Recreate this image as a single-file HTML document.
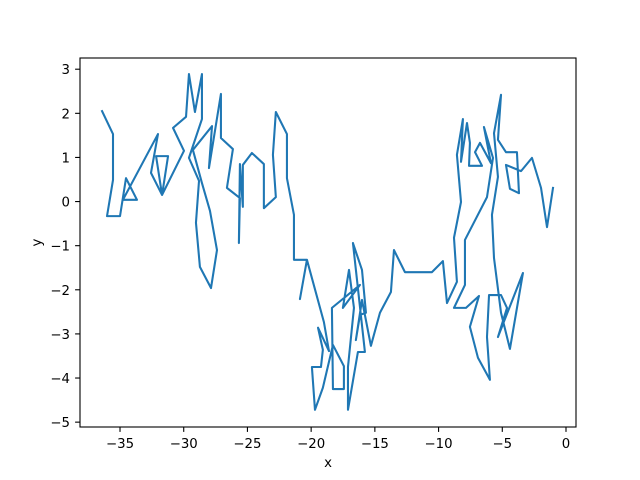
<!DOCTYPE html>
<html><head><meta charset="utf-8"><style>
html,body{margin:0;padding:0;background:#fff;}
svg{display:block;font-family:"DejaVu Sans","Liberation Sans",sans-serif;}
</style></head><body>
<svg id="chart" width="640" height="480">
<rect width="640" height="480" fill="#fff"/>
<g id="plot"></g>
</svg>
<script>
const xValues=[-36.41,-35.55,-35.55,-36.02,-35.0,-34.53,-33.67,-34.77,-32.02,-32.57,-31.70,-31.23,-32.17,-31.70,-29.98,-30.84,-29.82,-29.59,-29.12,-28.57,-28.57,-29.59,-28.80,-29.04,-28.73,-27.86,-27.39,-27.94,-28.57,-29.28,-27.78,-28.02,-27.08,-27.08,-26.14,-26.61,-25.59,-25.67,-25.59,-25.36,-25.36,-24.65,-23.71,-23.71,-22.77,-23.0,-22.77,-21.90,-21.90,-21.35,-21.35,-20.33,-20.88,-20.33,-19.0,-18.60,-19.46,-19.08,-19.23,-19.94,-19.70,-19.08,-18.29,-17.43,-17.43,-18.29,-18.37,-16.17,-17.51,-17.03,-16.64,-17.11,-17.11,-16.33,-15.78,-16.72,-16.01,-15.70,-16.17,-16.49,-16.01,-15.31,-14.60,-13.74,-13.50,-12.64,-10.52,-9.66,-9.34,-8.56,-8.79,-8.24,-8.56,-8.09,-8.24,-7.77,-7.54,-7.61,-6.59,-7.14,-6.75,-5.89,-6.44,-5.73,-6.20,-7.93,-7.93,-8.79,-7.85,-6.83,-7.54,-6.91,-5.97,-6.20,-6.04,-5.10,-4.63,-5.34,-3.38,-4.40,-5.10,-5.65,-5.81,-5.34,-5.65,-5.10,-5.34,-4.71,-3.85,-3.69,-4.40,-4.71,-3.53,-2.67,-1.96,-1.49,-1.02];
const yValues=[2.05,1.53,0.49,-0.33,-0.33,0.53,0.04,0.04,1.53,0.65,0.15,1.03,1.03,0.15,1.15,1.67,1.92,2.89,2.03,2.89,1.87,0.99,0.47,-0.48,-1.48,-1.96,-1.10,-0.21,0.42,1.17,1.71,0.76,2.44,1.44,1.19,0.31,0.08,-0.94,0.85,-0.12,0.83,1.10,0.85,-0.15,0.10,1.06,2.03,1.53,0.53,-0.30,-1.32,-1.32,-2.21,-1.32,-2.73,-3.39,-2.86,-3.36,-3.75,-3.75,-4.72,-4.22,-3.25,-3.73,-4.25,-4.25,-2.41,-1.89,-2.41,-1.55,-2.41,-3.75,-4.72,-3.41,-3.41,-0.94,-1.55,-2.52,-2.57,-3.14,-2.23,-3.27,-2.52,-2.05,-1.10,-1.60,-1.60,-1.35,-2.30,-1.82,-0.82,-0.01,1.06,1.87,0.90,1.78,1.33,0.81,0.81,1.12,1.33,0.87,1.69,0.99,0.10,-0.87,-1.89,-2.41,-2.41,-2.14,-2.84,-3.54,-4.04,-3.07,-2.12,-2.12,-2.41,-3.07,-1.62,-3.34,-2.52,-1.28,-0.30,0.56,1.55,2.42,1.40,1.12,1.12,0.19,0.29,0.83,0.69,0.99,0.31,-0.58,0.31];
const xTicks=[-35,-30,-25,-20,-15,-10,-5,0];
const yTicks=[-5,-4,-3,-2,-1,0,1,2,3];
const L=80,R=576,T=58,B=427;
const xMin=-38.14,xMax=0.785,yMin=-5.11,yMax=3.254;
function sx(v){return L+(v-xMin)/(xMax-xMin)*(R-L);}
function sy(v){return B-(v-yMin)/(yMax-yMin)*(B-T);}
const NS="http://www.w3.org/2000/svg";
const g=document.getElementById('plot');
function mk(tag,attrs){const e=document.createElementNS(NS,tag);for(const k in attrs)e.setAttribute(k,attrs[k]);g.appendChild(e);return e;}
let d='';
for(let i=0;i<xValues.length;i++){d+=(i?'L':'M')+sx(xValues[i]).toFixed(2)+' '+sy(yValues[i]).toFixed(2);}
const line=mk('path',{d:d,fill:'none',stroke:'#1f77b4','stroke-width':2.08,'stroke-linejoin':'round','stroke-linecap':'square'});


const frame=mk('rect',{x:L,y:T,width:R-L,height:B-T,fill:'none',stroke:'#000','stroke-width':1.1});


xTicks.forEach(t=>{
  const x=sx(t);
  const tk=mk('line',{x1:x,x2:x,y1:B,y2:B+4.9,stroke:'#000','stroke-width':1.1});
  
  
  const tx=mk('text',{x:x,y:B+21,'text-anchor':'middle','font-size':13.3,fill:'#000'});
  tx.textContent=(t<0?'\u2212'+(-t):t);
  
  
});
yTicks.forEach(t=>{
  const y=sy(t);
  const tk=mk('line',{x1:L-4.9,x2:L,y1:y,y2:y,stroke:'#000','stroke-width':1.1});
  
  
  const tx=mk('text',{x:L-10,y:y+5,'text-anchor':'end','font-size':13.3,fill:'#000'});
  tx.textContent=(t<0?'\u2212'+(-t):t);
  
  
});
const xl=mk('text',{x:(L+R)/2,y:467,'text-anchor':'middle','font-size':13.3,fill:'#000'});
xl.textContent='x';


const yl=mk('text',{x:41,y:(T+B)/2,'text-anchor':'middle','font-size':13.3,fill:'#000',transform:'rotate(-90 41 '+((T+B)/2)+')'});
yl.textContent='y';


</script>
</body></html>
